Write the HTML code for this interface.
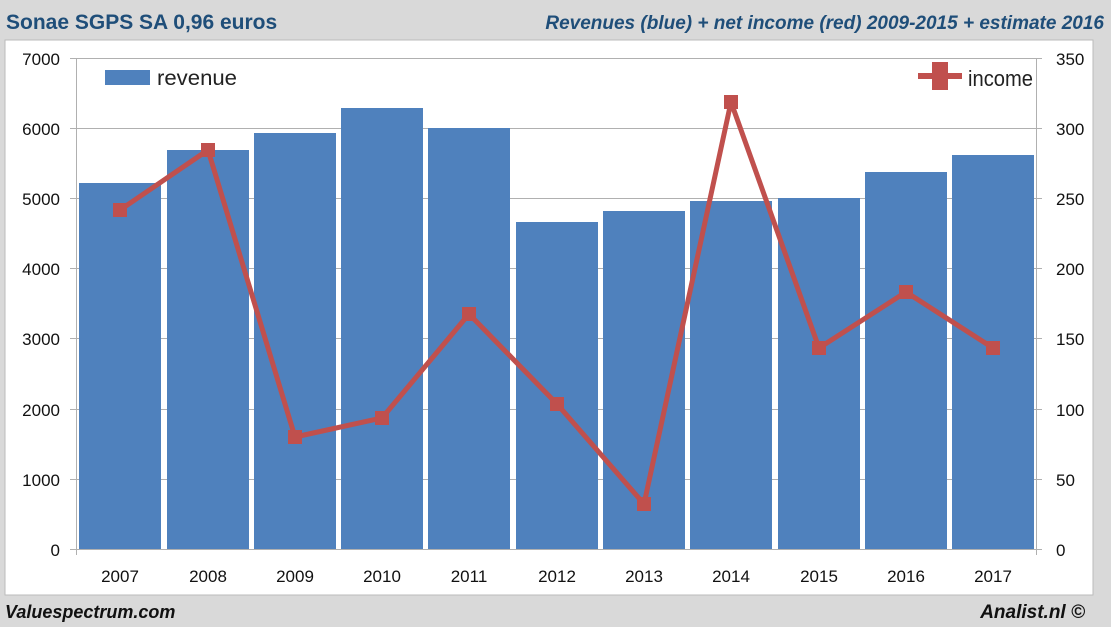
<!DOCTYPE html><html><head><meta charset="utf-8"><style>body{margin:0;background:#d9d9d9;}svg{display:block}</style></head><body>
<svg width="1111" height="627" xmlns="http://www.w3.org/2000/svg" font-family="Liberation Sans, sans-serif">
<rect width="1111" height="627" fill="#d9d9d9"/>
<text x="6" y="29" font-size="21" font-weight="bold" fill="#1f4e79">Sonae SGPS SA 0,96 euros</text>
<text x="1104" y="29" font-size="19" font-weight="bold" font-style="italic" fill="#1f4e79" text-anchor="end">Revenues (blue) + net income (red) 2009-2015 + estimate 2016</text>
<rect x="5" y="40" width="1088" height="555" fill="#fff" stroke="#bbb"/>
<g stroke="#b0b0b0" stroke-width="1">
<line x1="70" y1="58.5" x2="1042" y2="58.5"/><line x1="70" y1="128.5" x2="1042" y2="128.5"/><line x1="70" y1="198.5" x2="1042" y2="198.5"/><line x1="70" y1="268.5" x2="1042" y2="268.5"/><line x1="70" y1="338.5" x2="1042" y2="338.5"/><line x1="70" y1="409.5" x2="1042" y2="409.5"/><line x1="70" y1="479.5" x2="1042" y2="479.5"/><line x1="70" y1="549.5" x2="1042" y2="549.5"/>
<line x1="76.5" y1="58" x2="76.5" y2="555"/><line x1="1036.5" y1="58" x2="1036.5" y2="555"/>
</g>
<g fill="#4f81bd">
<rect x="79" y="183" width="82" height="366"/>
<rect x="167" y="150" width="82" height="399"/>
<rect x="254" y="133" width="82" height="416"/>
<rect x="341" y="108" width="82" height="441"/>
<rect x="428" y="128" width="82" height="421"/>
<rect x="516" y="222" width="82" height="327"/>
<rect x="603" y="211" width="82" height="338"/>
<rect x="690" y="201" width="82" height="348"/>
<rect x="778" y="198" width="82" height="351"/>
<rect x="865" y="172" width="82" height="377"/>
<rect x="952" y="155" width="82" height="394"/>
</g>
<rect x="100" y="64" width="150" height="28" fill="#fff"/>
<rect x="105" y="70" width="45" height="15" fill="#4f81bd"/>
<text x="157" y="85" font-size="21" fill="#222" textLength="80" lengthAdjust="spacingAndGlyphs">revenue</text>
<rect x="912" y="62" width="122" height="32" fill="#fff"/>
<line x1="918" y1="76" x2="962" y2="76" stroke="#c0504d" stroke-width="6"/>
<rect x="932" y="62" width="16" height="28" fill="#c0504d"/>
<text x="968" y="86" font-size="22" fill="#222" textLength="65" lengthAdjust="spacingAndGlyphs">income</text>
<polyline fill="none" stroke="#c0504d" stroke-width="5" stroke-linejoin="round" points="120,210 208,150 295,437 382,418 469,314 557,404 644,504 731,102 819,348 906,292 993,348"/>
<g fill="#c0504d">
<rect x="113" y="203" width="14" height="14"/><rect x="201" y="143" width="14" height="14"/><rect x="288" y="430" width="14" height="14"/><rect x="375" y="411" width="14" height="14"/><rect x="462" y="307" width="14" height="14"/><rect x="550" y="397" width="14" height="14"/><rect x="637" y="497" width="14" height="14"/><rect x="724" y="95" width="14" height="14"/><rect x="812" y="341" width="14" height="14"/><rect x="899" y="285" width="14" height="14"/><rect x="986" y="341" width="14" height="14"/>
</g>
<g font-size="17" fill="#111" text-anchor="end">
<text x="60" y="65">7000</text><text x="60" y="135">6000</text><text x="60" y="205">5000</text><text x="60" y="275">4000</text><text x="60" y="345">3000</text><text x="60" y="416">2000</text><text x="60" y="486">1000</text><text x="60" y="556">0</text>
</g>
<g font-size="17" fill="#111">
<text x="1056" y="65">350</text><text x="1056" y="135">300</text><text x="1056" y="205">250</text><text x="1056" y="275">200</text><text x="1056" y="345">150</text><text x="1056" y="416">100</text><text x="1056" y="486">50</text><text x="1056" y="556">0</text>
</g>
<g font-size="17" fill="#111" text-anchor="middle">
<text x="120" y="582">2007</text><text x="208" y="582">2008</text><text x="295" y="582">2009</text><text x="382" y="582">2010</text><text x="469" y="582">2011</text><text x="557" y="582">2012</text><text x="644" y="582">2013</text><text x="731" y="582">2014</text><text x="819" y="582">2015</text><text x="906" y="582">2016</text><text x="993" y="582">2017</text>
</g>
<text x="5" y="618" font-size="18" font-weight="bold" font-style="italic" fill="#111">Valuespectrum.com</text>
<text x="1085" y="618" font-size="19" font-weight="bold" font-style="italic" fill="#111" text-anchor="end">Analist.nl ©</text>
</svg>
</body></html>
